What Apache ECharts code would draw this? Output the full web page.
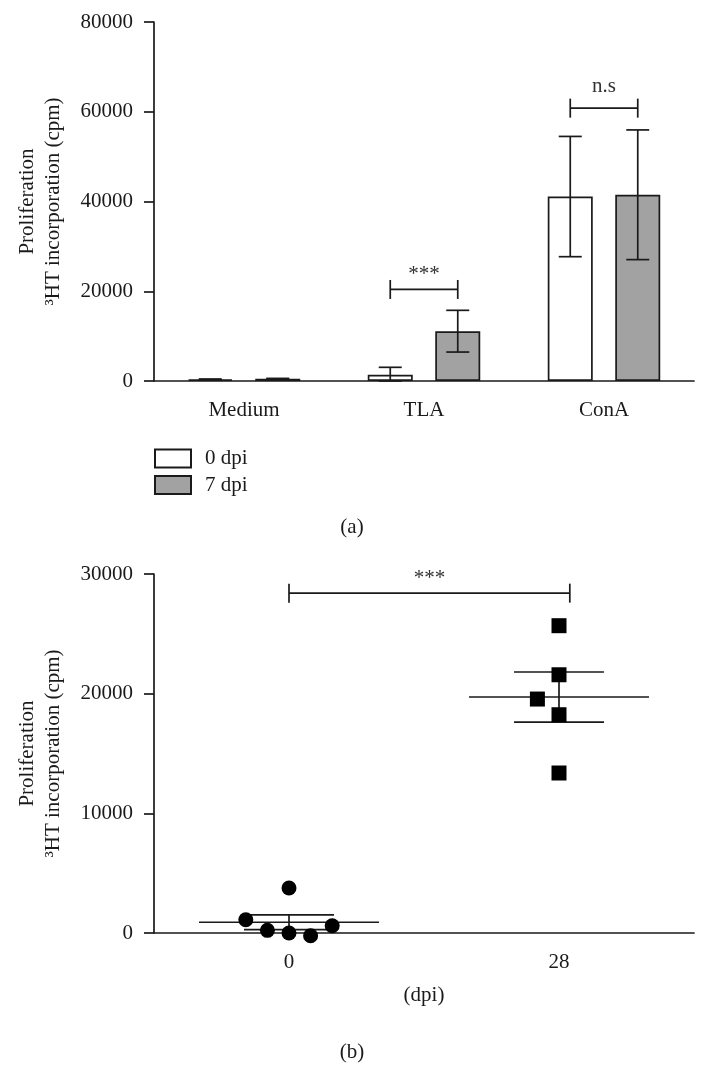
<!DOCTYPE html>
<html><head><meta charset="utf-8">
<script src="https://cdn.jsdelivr.net/npm/echarts@6/dist/echarts.min.js"></script>
<style>html,body{margin:0;padding:0;background:#fff}#c{width:708px;height:1083px}</style>
</head><body><div id="c"></div>
<script>
// ---------- Data: panel (a) ----------
const categoriesA = ['Medium', 'TLA', 'ConA'];
const seriesNamesA = ['0 dpi', '7 dpi'];
const mean0dpi = [350, 1400, 41100];
const err0dpi = [100, 1650, 13400];
const mean7dpi = [480, 11100, 41500];
const err7dpi = [100, 4650, 14450];
const yTicksA = [0, 20000, 40000, 60000, 80000];
const sigCatA = [1, 2];
const sigYA = [20400, 60800];
const sigTextA = ['***', 'n.s'];

// ---------- Data: panel (b) ----------
const categoriesB = ['0', '28'];
const dpi0X = [0, -0.16, -0.08, 0, 0.08, 0.16];
const dpi0Y = [3760, 1110, 220, 0, -230, 610];
const dpi28X = [0, 0, -0.08, 0, 0];
const dpi28Y = [25680, 21580, 19550, 18240, 13370];
const meanB = [900, 19720];
const semB = [620, 2090];
const yTicksB = [0, 10000, 20000, 30000];
const sigFromB = 0, sigToB = 1.04, sigYB = 28400, sigTextB = '***';

// ---------- Style ----------
const FONT = '"Liberation Serif", "Times New Roman", serif';
const INK = '#1a1a1a';
const BAR_W = 45, BAR_GAP = 0.5;
const barOffset = BAR_W * (1 + BAR_GAP) / 2;
const lineSt = {stroke: INK, lineWidth: 1.7};
const axisLineStyle = {color: INK, width: 1.7};
const labelStyle = {color: INK, fontFamily: FONT, fontSize: 21};

function errRender(side) {
  return function (params, api) {
    const c = api.value(0), m = api.value(1), e = api.value(2);
    const pHi = api.coord([c, m + e]);
    const pLo = api.coord([c, Math.max(0, m - e)]);
    const x = pHi[0] + side * barOffset;
    const cap = 11.5;
    return {type: 'group', children: [
      {type: 'line', shape: {x1: x, y1: pHi[1], x2: x, y2: pLo[1]}, style: lineSt},
      {type: 'line', shape: {x1: x - cap, y1: pHi[1], x2: x + cap, y2: pHi[1]}, style: lineSt},
      {type: 'line', shape: {x1: x - cap, y1: pLo[1], x2: x + cap, y2: pLo[1]}, style: lineSt}
    ]};
  };
}

function bracketShape(x1, x2, y, text) {
  const t = 9.5;
  const off = text === '***' ? 4 : 11;
  return {type: 'group', children: [
    {type: 'line', shape: {x1: x1, y1: y, x2: x2, y2: y}, style: lineSt},
    {type: 'line', shape: {x1: x1, y1: y - t, x2: x1, y2: y + t}, style: lineSt},
    {type: 'line', shape: {x1: x2, y1: y - t, x2: x2, y2: y + t}, style: lineSt},
    {type: 'text', x: (x1 + x2) / 2, y: y - off,
     style: {text: text, align: 'center', verticalAlign: 'bottom', fill: '#333',
             font: '21px ' + FONT}}
  ]};
}

function bracketA(params, api) {
  const p = api.coord([api.value(0), api.value(1)]);
  return bracketShape(p[0] - barOffset, p[0] + barOffset, p[1], sigTextA[params.dataIndex]);
}
function bracketB(params, api) {
  const p1 = api.coord([api.value(0), api.value(2)]);
  const p2 = api.coord([api.value(1), api.value(2)]);
  return bracketShape(p1[0], p2[0], p1[1], sigTextB);
}
function meanSemRender(params, api) {
  const g = api.value(0), m = api.value(1), s = api.value(2);
  const pm = api.coord([g, m]), pu = api.coord([g, m + s]), pl = api.coord([g, m - s]);
  const x = pm[0], hw = 90, cw = 45;
  return {type: 'group', children: [
    {type: 'line', shape: {x1: x - hw, y1: pm[1], x2: x + hw, y2: pm[1]}, style: lineSt},
    {type: 'line', shape: {x1: x - cw, y1: pu[1], x2: x + cw, y2: pu[1]}, style: lineSt},
    {type: 'line', shape: {x1: x - cw, y1: pl[1], x2: x + cw, y2: pl[1]}, style: lineSt},
    {type: 'line', shape: {x1: x, y1: pu[1], x2: x, y2: pl[1]}, style: lineSt}
  ]};
}

function yAxisCfg(gridIndex, ticks) {
  return {
    gridIndex: gridIndex, type: 'value',
    min: ticks[0], max: ticks[ticks.length - 1], interval: ticks[1] - ticks[0],
    axisLine: {show: true, onZero: false, lineStyle: axisLineStyle},
    axisTick: {show: true, length: 10, lineStyle: axisLineStyle},
    splitLine: {show: false},
    axisLabel: Object.assign({margin: 21, formatter: v => String(v)}, labelStyle),
    name: 'Proliferation\n\u00B3HT incorporation (cpm)',
    nameLocation: 'middle', nameRotate: 90, nameGap: 88,
    nameTextStyle: Object.assign({lineHeight: 26}, labelStyle)
  };
}

const chart = echarts.init(document.getElementById('c'), null, {renderer: 'canvas'});
chart.setOption({
  animation: false,
  backgroundColor: '#fff',
  textStyle: {fontFamily: FONT},
  graphic: [
    {type: 'text', x: 352, y: 527, style: {text: '(a)', align: 'center', verticalAlign: 'middle', font: '21px ' + FONT, fill: INK}},
    {type: 'text', x: 352, y: 1052, style: {text: '(b)', align: 'center', verticalAlign: 'middle', font: '21px ' + FONT, fill: INK}}
  ],
  legend: {
    data: seriesNamesA, orient: 'vertical', left: 154, top: 448,
    itemWidth: 36, itemHeight: 18, itemGap: 5.5, selectedMode: false, icon: 'rect',
    padding: 0,
    textStyle: Object.assign({lineHeight: 18, padding: [0, 0, 0, 9]}, labelStyle)
  },
  grid: [
    {left: 154, top: 22, width: 540, height: 359},
    {left: 154, top: 574, width: 540, height: 359}
  ],
  xAxis: [
    {gridIndex: 0, type: 'category', data: categoriesA,
     axisLine: {lineStyle: axisLineStyle},
     axisTick: {alignWithLabel: true, length: 10, lineStyle: axisLineStyle},
     axisLabel: Object.assign({margin: 19}, labelStyle)},
    {gridIndex: 1, type: 'category', data: categoriesB,
     axisLine: {onZero: false, lineStyle: axisLineStyle},
     axisTick: {alignWithLabel: true, length: 10, lineStyle: axisLineStyle},
     axisLabel: Object.assign({margin: 19}, labelStyle),
     name: '(dpi)', nameLocation: 'middle', nameGap: 52, nameTextStyle: labelStyle},
    {gridIndex: 1, type: 'value', show: false, min: -0.5, max: 1.5}
  ],
  yAxis: [yAxisCfg(0, yTicksA), yAxisCfg(1, yTicksB)],
  series: [
    {name: seriesNamesA[0], type: 'bar', xAxisIndex: 0, yAxisIndex: 0,
     data: mean0dpi, barWidth: BAR_W, barGap: (BAR_GAP * 100) + '%',
     itemStyle: {color: '#ffffff', borderColor: INK, borderWidth: 1.7}},
    {name: seriesNamesA[1], type: 'bar', xAxisIndex: 0, yAxisIndex: 0,
     data: mean7dpi, barWidth: BAR_W, barGap: (BAR_GAP * 100) + '%',
     itemStyle: {color: '#a2a2a2', borderColor: INK, borderWidth: 1.7}},
    {type: 'custom', xAxisIndex: 0, yAxisIndex: 0, clip: false, z: 5,
     renderItem: errRender(-1),
     data: categoriesA.map((c, i) => [i, mean0dpi[i], err0dpi[i]])},
    {type: 'custom', xAxisIndex: 0, yAxisIndex: 0, clip: false, z: 5,
     renderItem: errRender(1),
     data: categoriesA.map((c, i) => [i, mean7dpi[i], err7dpi[i]])},
    {type: 'custom', xAxisIndex: 0, yAxisIndex: 0, clip: false, z: 5,
     renderItem: bracketA,
     data: sigCatA.map((c, i) => [c, sigYA[i]])},
    // panel (b)
    {type: 'scatter', xAxisIndex: 2, yAxisIndex: 1, clip: false, z: 6,
     symbol: 'circle', symbolSize: 15, itemStyle: {color: '#000', opacity: 1},
     data: dpi0X.map((x, i) => [x, dpi0Y[i]])},
    {type: 'scatter', xAxisIndex: 2, yAxisIndex: 1, clip: false, z: 6,
     symbol: 'rect', symbolSize: 15, itemStyle: {color: '#000', opacity: 1},
     data: dpi28X.map((x, i) => [1 + x, dpi28Y[i]])},
    {type: 'custom', xAxisIndex: 2, yAxisIndex: 1, clip: false, z: 5,
     renderItem: meanSemRender,
     data: meanB.map((m, i) => [i, m, semB[i]])},
    {type: 'custom', xAxisIndex: 2, yAxisIndex: 1, clip: false, z: 5,
     renderItem: bracketB,
     data: [[sigFromB, sigToB, sigYB]]}
  ]
});
</script>
</body></html>
